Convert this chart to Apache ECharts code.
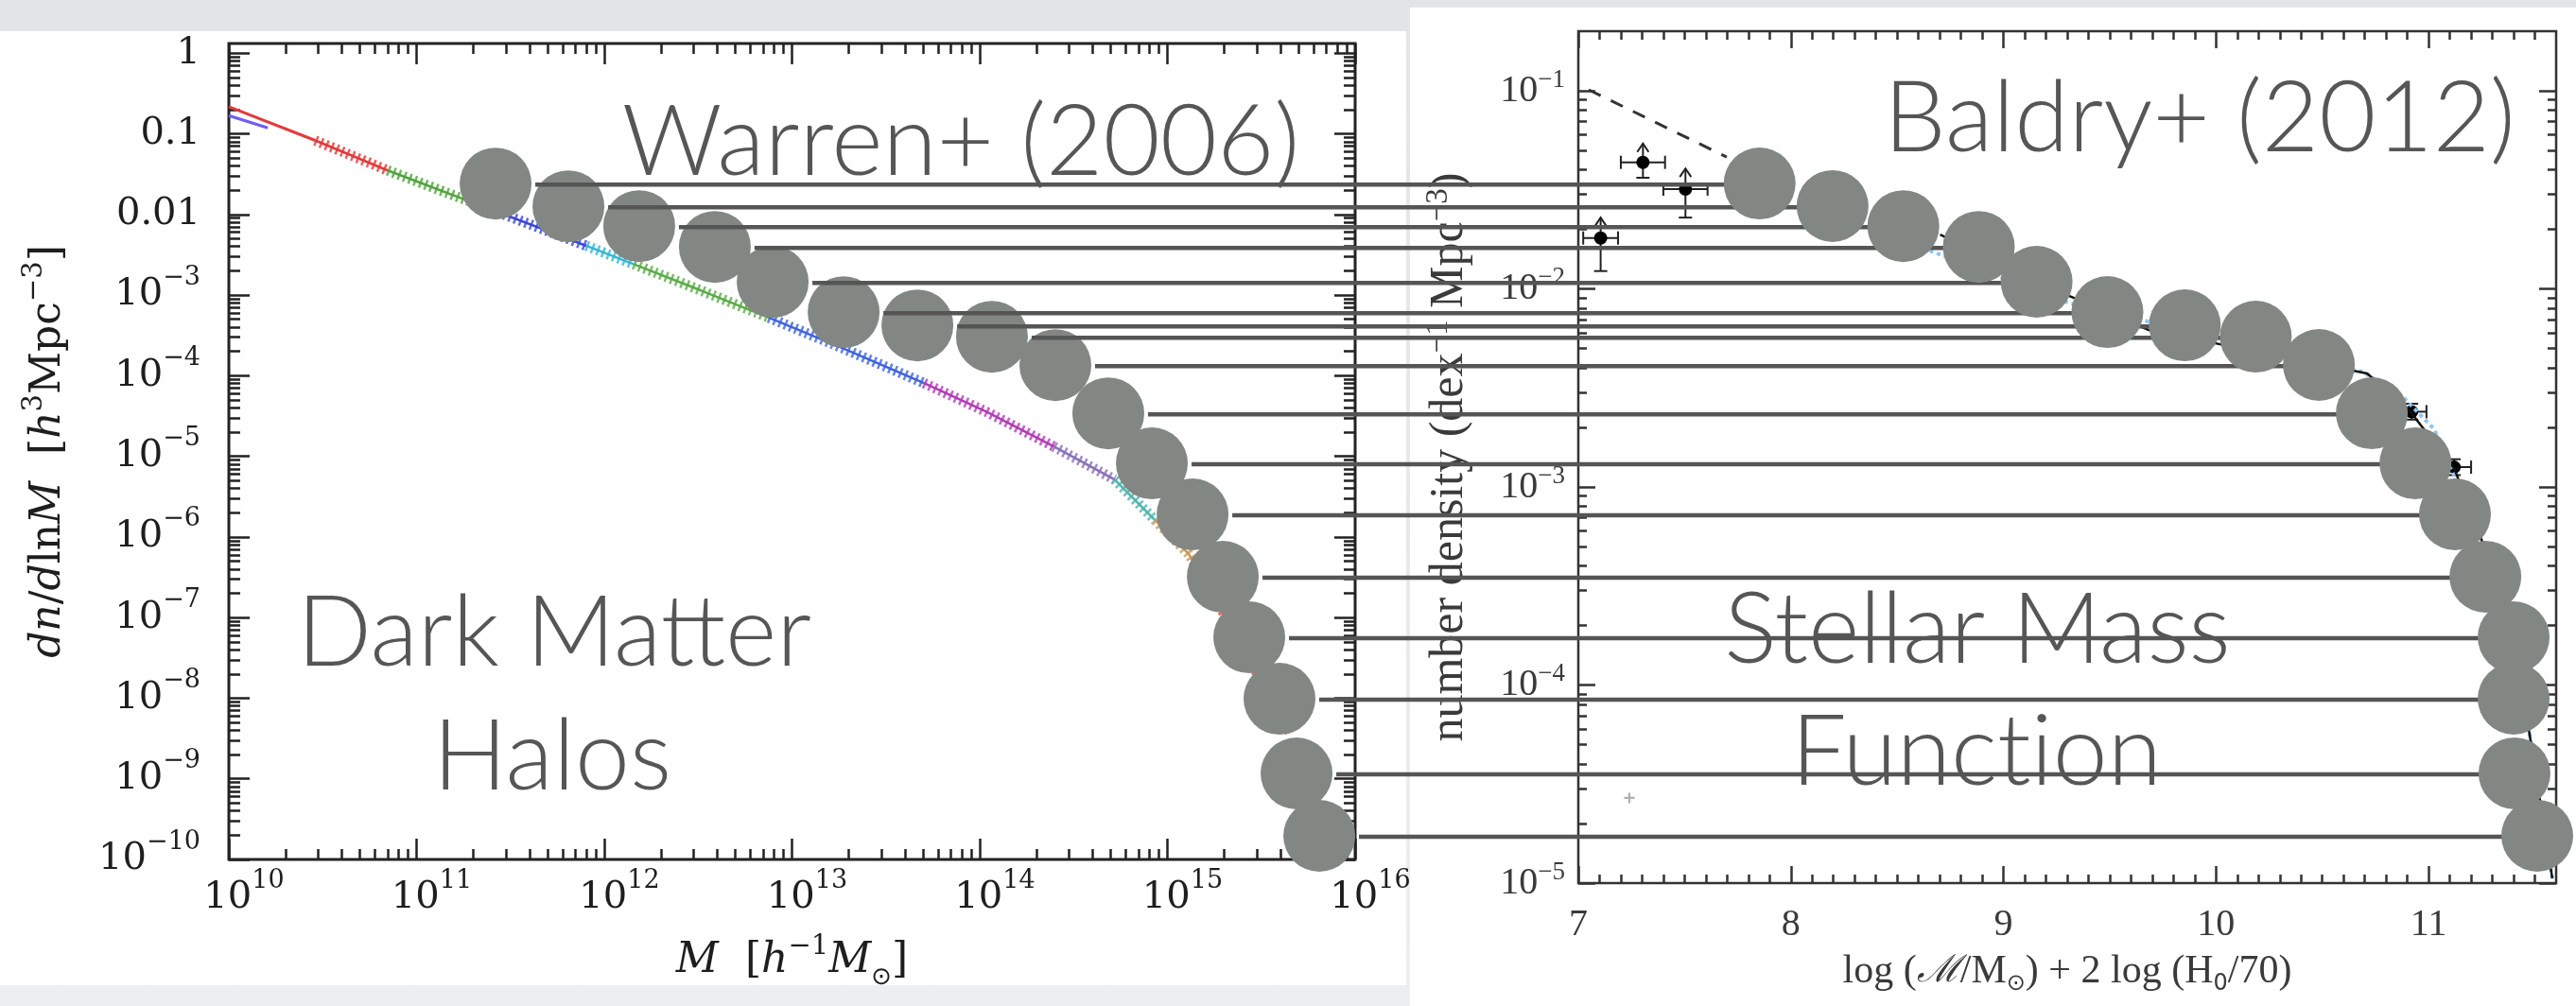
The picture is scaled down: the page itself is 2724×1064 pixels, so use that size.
<!DOCTYPE html>
<html>
<head>
<meta charset="utf-8">
<script src="https://cdn.jsdelivr.net/npm/echarts@6.0.0/dist/echarts.min.js"></script>
<style>
html,body{margin:0;padding:0;overflow:hidden;background:#e8eaed;}
#chart{width:2724px;height:1064px;}
</style>
</head>
<body>
<div id="chart"></div>
<script>
// ================= DATA =================
// Left panel: Warren+ (2006) halo mass function, log10 M [h^-1 Msun] and log10 dn/dlnM
const haloCurveLogM = [10.000,10.460,10.846,11.221,11.436,11.706,11.904,12.156,12.516,12.876,13.236,13.703,14.035,14.394,14.718,14.934,15.113,15.294,15.654];
const haloCurveLogN = [-0.665,-1.082,-1.454,-1.784,-1.973,-2.213,-2.389,-2.616,-2.944,-3.279,-3.625,-4.092,-4.447,-4.878,-5.288,-5.791,-6.210,-6.921,-8.429];
const haloCurveBreaks = [0,1,2,4,6,7,9,11,13,14,15,17,18];
const haloLowResLogM = [10.000,10.207];
const haloLowResLogN = [-0.774,-0.926];
const haloCircleLogM = [11.421,11.809,12.186,12.589,12.897,13.275,13.668,14.065,14.403,14.685,14.917,15.134,15.295,15.436,15.597,15.688,15.809];
const haloCircleLogN = [-1.618,-1.899,-2.145,-2.403,-2.837,-3.212,-3.376,-3.517,-3.869,-4.467,-5.088,-5.721,-6.495,-7.245,-8.007,-8.933,-9.707];
const leftXTickExp = [10,11,12,13,14,15,16];
const leftYTickExp = [0,-1,-2,-3,-4,-5,-6,-7,-8,-9,-10];

// Right panel: Baldry+ (2012) stellar mass function, log(M*/Msun) and log10 phi
const smfCircleLogMstar = [7.853,8.196,8.529,8.884,9.156,9.489,9.853,10.187,10.484,10.733,10.938,11.124,11.267,11.400,11.400,11.404,11.511];
const smfCircleLogPhi = [-1.468,-1.582,-1.683,-1.788,-1.964,-2.117,-2.184,-2.241,-2.384,-2.628,-2.881,-3.138,-3.453,-3.759,-4.069,-4.446,-4.761];
const smfPointsX = [7.105,7.304,7.504,10.920,11.120];
const smfPointsLogPhi = [-1.743,-1.361,-1.496,-2.620,-2.900];
const smfXErrLo = [7.023,7.200,7.400,10.860,11.050];
const smfXErrHi = [7.187,7.408,7.608,10.990,11.200];
const smfYErrLo = [-1.910,-1.439,-1.640,-2.660,-2.940];
const smfYErrHi = [-1.640,-1.266,-1.392,-2.580,-2.860];
const smfLowerLimit = [true,true,true,false,false];
const smfFitX = [8.702,9.311,9.684,10.711,10.916,11.120,11.249,11.404,11.471,11.582];
const smfFitLogPhi = [-1.726,-2.036,-2.208,-2.427,-2.623,-2.905,-3.267,-3.788,-4.222,-4.976];
const smfBlueX = [8.653,9.302,10.689,10.884,11.027,11.249,11.471,11.582];
const smfBlueLogPhi = [-1.807,-2.069,-2.418,-2.551,-2.709,-3.267,-4.222,-4.976];
const smfDashX = [7.049,7.698];
const smfDashLogPhi = [-0.995,-1.334];
const smfLimitX = [7.24];
const smfLimitLogPhi = [-4.57];
const rightXTicks = [7,8,9,10,11];
const rightYTickExp = [-1,-2,-3,-4,-5];

// ================= STYLE =================
const haloSegColors = ['#e23b3b','#e03a3a','#4fa33c','#3a46d8','#35b7cf','#5aab47','#3f63dc','#b13bb5','#8a70b8','#4fb3ad','#c99555','#e03b3b'];
const CIRCLE = '#828784';
const CIRCLE_SIZE = 76;
const LINE_COLOR = '#555555';
const pow10 = v => Math.pow(10, v);
const MINUS = '\u2212';
const supTxt = e => '{s|' + (e < 0 ? MINUS + (-e) : String(e)) + '}';
const expOf = v => Math.round(Math.log10(v));

const leftXMajor = leftXTickExp.map(pow10);
const leftYMajor = leftYTickExp.map(pow10);
const rightYMajor = rightYTickExp.map(pow10);
const leftXMinor = [], leftYMinor = [], rightYMinor = [], rightXMinor = [];
for (let d = 10; d < 16; d++) for (let m = 2; m <= 9; m++) leftXMinor.push(m * pow10(d));
for (let d = -10; d <= 0; d++) for (let m = 2; m <= 9; m++) { const v = m * pow10(d); if (v < 1.3) leftYMinor.push(v); }
for (let d = -5; d <= -1; d++) for (let m = 2; m <= 9; m++) { const v = m * pow10(d); if (v < 0.2) rightYMinor.push(v); }
for (let k = 71; k <= 115; k++) if (k % 10) rightXMinor.push(k / 10);

const LEFT_MIN_Y = 1e-10, LEFT_MAX_Y = pow10(0.12);
const RIGHT_MIN_Y = 1e-5, RIGHT_MAX_Y = 0.2;

const LFONT = 'DejaVu Serif', RFONT = 'Liberation Serif';
const LCOL = '#1e1e1e', RCOL = '#3a3a3a';
const leftRich = {
  b: {fontFamily: LFONT, fontSize: 40, lineHeight: 64, color: LCOL},
  s: {fontFamily: LFONT, fontSize: 27, lineHeight: 20, verticalAlign: 'top', color: LCOL},
  sp: {width: 32}
};
const rightRich = {
  b: {fontFamily: RFONT, fontSize: 40, lineHeight: 50, color: RCOL},
  s: {fontFamily: RFONT, fontSize: 27, lineHeight: 24, verticalAlign: 'top', color: RCOL}
};

function tickAxis(base, opts) {
  return Object.assign({
    axisLine: {show: false}, splitLine: {show: false},
    axisLabel: {show: false}, axisTick: {show: false}
  }, base, opts);
}
function ticks(values, len, color) {
  return {show: true, inside: true, length: len, customValues: values, lineStyle: {color: color, width: 2.5}};
}

// ================= AXES =================
const xAxes = [
  tickAxis({gridIndex: 0, type: 'log', logBase: 10, min: 1e10, max: 1e16, position: 'bottom'}, {
    axisTick: ticks(leftXMajor, 22, '#222'),
    axisLabel: {show: true, customValues: leftXMajor, margin: 9, fontFamily: LFONT, fontSize: 40, lineHeight: 64, color: LCOL,
      formatter: v => '{sp| }{b|10}' + supTxt(expOf(v)), rich: leftRich},
    name: '{i|M}  [{i|h}{s|' + MINUS + '1}{i|M}{u|\u2299}]', nameLocation: 'middle', nameGap: 58,
    nameTextStyle: {fontFamily: LFONT, fontSize: 44, lineHeight: 60, color: LCOL, rich: {
      i: {fontFamily: LFONT, fontStyle: 'italic', fontSize: 44, lineHeight: 60, color: LCOL},
      s: {fontFamily: LFONT, fontSize: 29, lineHeight: 20, verticalAlign: 'top', color: LCOL},
      u: {fontFamily: 'DejaVu Sans', fontSize: 26, lineHeight: 22, verticalAlign: 'bottom', color: LCOL}}}
  }),
  tickAxis({gridIndex: 0, type: 'log', logBase: 10, min: 1e10, max: 1e16, position: 'bottom'}, {axisTick: ticks(leftXMinor, 11, '#222')}),
  tickAxis({gridIndex: 0, type: 'log', logBase: 10, min: 1e10, max: 1e16, position: 'top'}, {axisTick: ticks(leftXMajor, 22, '#222')}),
  tickAxis({gridIndex: 0, type: 'log', logBase: 10, min: 1e10, max: 1e16, position: 'top'}, {axisTick: ticks(leftXMinor, 11, '#222')}),
  tickAxis({gridIndex: 1, type: 'value', min: 7, max: 11.6, interval: 1, position: 'bottom'}, {
    axisTick: ticks(rightXTicks, 18, '#333'),
    axisLabel: {show: true, customValues: rightXTicks, margin: 24, fontFamily: RFONT, fontSize: 40, lineHeight: 40, color: RCOL},
    name: 'log ({c|\u2133}/M{u|\u2299}) + 2 log (H{u|0}/70)', nameLocation: 'middle', nameGap: 61,
    nameTextStyle: {fontFamily: RFONT, fontSize: 42, lineHeight: 50, color: RCOL, rich: {
      c: {fontFamily: 'DejaVu Serif', fontStyle: 'italic', fontSize: 40, lineHeight: 50, color: RCOL},
      u: {fontFamily: 'DejaVu Sans', fontSize: 24, lineHeight: 26, verticalAlign: 'bottom', color: RCOL}}}
  }),
  tickAxis({gridIndex: 1, type: 'value', min: 7, max: 11.6, interval: 1, position: 'bottom'}, {axisTick: ticks(rightXMinor, 9, '#333')}),
  tickAxis({gridIndex: 1, type: 'value', min: 7, max: 11.6, interval: 1, position: 'top'}, {axisTick: ticks(rightXTicks, 18, '#333')}),
  tickAxis({gridIndex: 1, type: 'value', min: 7, max: 11.6, interval: 1, position: 'top'}, {axisTick: ticks(rightXMinor, 9, '#333')})
];
const yAxes = [
  tickAxis({gridIndex: 0, type: 'log', logBase: 10, min: LEFT_MIN_Y, max: LEFT_MAX_Y, position: 'left'}, {
    axisTick: ticks(leftYMajor, 22, '#222'),
    axisLabel: {show: true, customValues: leftYMajor, margin: 30, fontFamily: LFONT, fontSize: 40, lineHeight: 64, color: LCOL,
      formatter: v => { const e = expOf(v); if (e === 0) return '1'; if (e === -1) return '0.1'; if (e === -2) return '0.01'; return '{b|10}' + supTxt(e); },
      rich: leftRich},
    name: '{i|dn}/{i|d}ln{i|M}  [{i|h}{s|3}Mpc{s|' + MINUS + '3}]', nameLocation: 'middle', nameGap: 160, nameRotate: 90,
    nameTextStyle: {fontFamily: LFONT, fontSize: 44, lineHeight: 60, color: LCOL, rich: {
      i: {fontFamily: LFONT, fontStyle: 'italic', fontSize: 44, lineHeight: 60, color: LCOL},
      s: {fontFamily: LFONT, fontSize: 29, lineHeight: 20, verticalAlign: 'top', color: LCOL}}}
  }),
  tickAxis({gridIndex: 0, type: 'log', logBase: 10, min: LEFT_MIN_Y, max: LEFT_MAX_Y, position: 'left'}, {axisTick: ticks(leftYMinor, 12, '#222')}),
  tickAxis({gridIndex: 0, type: 'log', logBase: 10, min: LEFT_MIN_Y, max: LEFT_MAX_Y, position: 'right'}, {axisTick: ticks(leftYMajor, 22, '#222')}),
  tickAxis({gridIndex: 0, type: 'log', logBase: 10, min: LEFT_MIN_Y, max: LEFT_MAX_Y, position: 'right'}, {axisTick: ticks(leftYMinor, 12, '#222')}),
  tickAxis({gridIndex: 1, type: 'log', logBase: 10, min: RIGHT_MIN_Y, max: RIGHT_MAX_Y, position: 'left'}, {
    axisTick: ticks(rightYMajor, 18, '#333'),
    axisLabel: {show: true, customValues: rightYMajor, margin: 14, fontFamily: RFONT, fontSize: 40, lineHeight: 50, color: RCOL,
      formatter: v => '{b|10}' + supTxt(expOf(v)), rich: rightRich},
    name: 'number density (dex{s|' + MINUS + '1} Mpc{s|' + MINUS + '3})', nameLocation: 'middle', nameGap: 108, nameRotate: 90,
    nameTextStyle: {fontFamily: RFONT, fontSize: 50, lineHeight: 56, color: RCOL, rich: {
      s: {fontFamily: RFONT, fontSize: 33, lineHeight: 24, verticalAlign: 'top', color: RCOL}}}
  }),
  tickAxis({gridIndex: 1, type: 'log', logBase: 10, min: RIGHT_MIN_Y, max: RIGHT_MAX_Y, position: 'left'}, {axisTick: ticks(rightYMinor, 9, '#333')}),
  tickAxis({gridIndex: 1, type: 'log', logBase: 10, min: RIGHT_MIN_Y, max: RIGHT_MAX_Y, position: 'right'}, {axisTick: ticks(rightYMajor, 18, '#333')}),
  tickAxis({gridIndex: 1, type: 'log', logBase: 10, min: RIGHT_MIN_Y, max: RIGHT_MAX_Y, position: 'right'}, {axisTick: ticks(rightYMinor, 9, '#333')})
];

// ================= SERIES =================
const series = [];
const L = {xAxisIndex: 0, yAxisIndex: 0};
const R = {xAxisIndex: 4, yAxisIndex: 4};
const pairs = (xs, ys, fx, fy) => xs.map((x, i) => [fx(x), fy(ys[i])]);
const id = v => v;

series.push(Object.assign({type: 'line', z: 3, symbol: 'none', silent: true,
  data: pairs(haloLowResLogM, haloLowResLogN, pow10, pow10),
  lineStyle: {color: '#6f5cf5', width: 3}}, L));
for (let s = 0; s < haloCurveBreaks.length - 1; s++) {
  const a = haloCurveBreaks[s], b = haloCurveBreaks[s + 1];
  const d = [];
  for (let k = a; k <= b; k++) d.push([pow10(haloCurveLogM[k]), pow10(haloCurveLogN[k])]);
  series.push(Object.assign({type: 'line', z: 3, symbol: 'none', silent: true, data: d,
    lineStyle: {color: haloSegColors[s], width: s === 0 ? 3 : 2.5}}, L));
  if (s > 0) series.push(Object.assign({type: 'line', z: 3, symbol: 'none', silent: true, data: d,
    lineStyle: {color: haloSegColors[s], width: 11, type: [2.5, 3.5], opacity: 0.8}}, L));
}
series.push(Object.assign({id: 'haloCircles', type: 'scatter', z: 4, clip: false, silent: true,
  symbol: 'circle', symbolSize: CIRCLE_SIZE, itemStyle: {color: CIRCLE, opacity: 1},
  data: pairs(haloCircleLogM, haloCircleLogN, pow10, pow10)}, L));

series.push(Object.assign({type: 'line', z: 3, symbol: 'none', silent: true,
  data: pairs(smfDashX, smfDashLogPhi, id, pow10), lineStyle: {color: '#333', width: 3, type: [14, 12]}}, R));
series.push(Object.assign({type: 'line', z: 3, symbol: 'none', silent: true,
  data: pairs(smfBlueX, smfBlueLogPhi, id, pow10), lineStyle: {color: '#8fc6f2', width: 4, type: 'dotted'}}, R));
series.push(Object.assign({type: 'line', z: 3, symbol: 'none', silent: true,
  data: pairs(smfFitX, smfFitLogPhi, id, pow10), lineStyle: {color: '#111', width: 2.5}}, R));
series.push(Object.assign({type: 'custom', z: 3, silent: true, clip: false,
  data: pairs(smfPointsX, smfPointsLogPhi, id, pow10),
  renderItem: (params, api) => {
    const i = params.dataIndex;
    const yv = pow10(smfPointsLogPhi[i]);
    const p = api.coord([smfPointsX[i], yv]);
    const xl = api.coord([smfXErrLo[i], yv])[0], xh = api.coord([smfXErrHi[i], yv])[0];
    const yl = api.coord([smfPointsX[i], pow10(smfYErrLo[i])])[1];
    const yh = api.coord([smfPointsX[i], pow10(smfYErrHi[i])])[1];
    const st = {stroke: '#222', lineWidth: 2};
    const c = 7;
    const ch = [
      {type: 'line', shape: {x1: xl, y1: p[1], x2: xh, y2: p[1]}, style: st},
      {type: 'line', shape: {x1: xl, y1: p[1] - c, x2: xl, y2: p[1] + c}, style: st},
      {type: 'line', shape: {x1: xh, y1: p[1] - c, x2: xh, y2: p[1] + c}, style: st},
      {type: 'line', shape: {x1: p[0], y1: yl, x2: p[0], y2: yh}, style: st},
      {type: 'line', shape: {x1: p[0] - c, y1: yl, x2: p[0] + c, y2: yl}, style: st}
    ];
    if (smfLowerLimit[i]) ch.push({type: 'polyline', shape: {points: [[p[0] - 6, yh + 9], [p[0], yh], [p[0] + 6, yh + 9]]}, style: {stroke: '#222', lineWidth: 2, fill: null}});
    else ch.push({type: 'line', shape: {x1: p[0] - c, y1: yh, x2: p[0] + c, y2: yh}, style: st});
    ch.push({type: 'circle', shape: {cx: p[0], cy: p[1], r: 7}, style: {fill: '#000'}});
    return {type: 'group', children: ch};
  }}, R));
series.push(Object.assign({type: 'scatter', z: 3, silent: true,
  symbol: 'path://M4,0H6V4H10V6H6V10H4V6H0V4H4Z', symbolSize: 11, itemStyle: {color: '#9a9a9a'},
  data: pairs(smfLimitX, smfLimitLogPhi, id, pow10)}, R));

let matchSegs = [];
series.push({id: 'matchLines', type: 'custom', coordinateSystem: 'none', z: 5, silent: true, data: [],
  renderItem: (params) => {
    const s = matchSegs[params.dataIndex];
    return {type: 'line', shape: {x1: s[0], y1: s[1], x2: s[2], y2: s[1]}, style: {stroke: LINE_COLOR, lineWidth: 4.5}};
  }});
series.push(Object.assign({id: 'smfCircles', type: 'scatter', z: 6, clip: false, silent: true,
  symbol: 'circle', symbolSize: CIRCLE_SIZE, itemStyle: {color: CIRCLE, opacity: 1},
  data: pairs(smfCircleLogMstar, smfCircleLogPhi, id, pow10)}, R));

// ================= GRAPHIC (panels + captions) =================
const bigText = (txt, x, y) => ({type: 'text', x: x, y: y, z: 1, silent: true,
  style: {text: txt, fontFamily: 'Lato', fontWeight: 300, fontSize: 104, fill: '#565656', align: 'center', verticalAlign: 'middle'}});

const option = {
  animation: false,
  backgroundColor: {type: 'linear', x: 0, y: 0, x2: 0, y2: 1, colorStops: [{offset: 0, color: '#e2e5e8'}, {offset: 1, color: '#eceef0'}]},
  textStyle: {fontFamily: LFONT},
  grid: [
    {left: 242, top: 46, width: 1191, height: 863, show: true, borderWidth: 3, borderColor: '#222', backgroundColor: 'transparent', containLabel: false, outerBoundsMode: 'none'},
    {left: 1669, top: 33, width: 1034, height: 901, show: true, borderWidth: 2.5, borderColor: '#333', backgroundColor: 'transparent', containLabel: false, outerBoundsMode: 'none'}
  ],
  xAxis: xAxes,
  yAxis: yAxes,
  graphic: [
    {type: 'rect', z: -10, silent: true, shape: {x: 0, y: 33, width: 1487, height: 1009}, style: {fill: '#ffffff'}},
    {type: 'rect', z: -10, silent: true, shape: {x: 1491, y: 8, width: 1233, height: 1056}, style: {fill: '#ffffff'}},
    bigText('Warren+ (2006)', 1016, 151),
    bigText('Baldry+ (2012)', 2326, 126),
    bigText('Dark Matter', 586, 670),
    bigText('Halos', 584, 801),
    bigText('Stellar Mass', 2091, 667),
    bigText('Funct\u200Cion', 2090, 796)
  ],
  series: series
};

const chart = echarts.init(document.getElementById('chart'), null, {renderer: 'canvas', width: 2724, height: 1064});
chart.setOption(option);

const START_GAP = 42;
matchSegs = haloCircleLogM.map((m, i) => {
  const a = chart.convertToPixel({seriesId: 'haloCircles'}, [pow10(m), pow10(haloCircleLogN[i])]);
  const b = chart.convertToPixel({seriesId: 'smfCircles'}, [smfCircleLogMstar[i], pow10(smfCircleLogPhi[i])]);
  return [a[0] + START_GAP, a[1] + 1, b[0]];
});
chart.setOption({series: [{id: 'matchLines', data: matchSegs.map((s, i) => [i])}]});
</script>
</body>
</html>
